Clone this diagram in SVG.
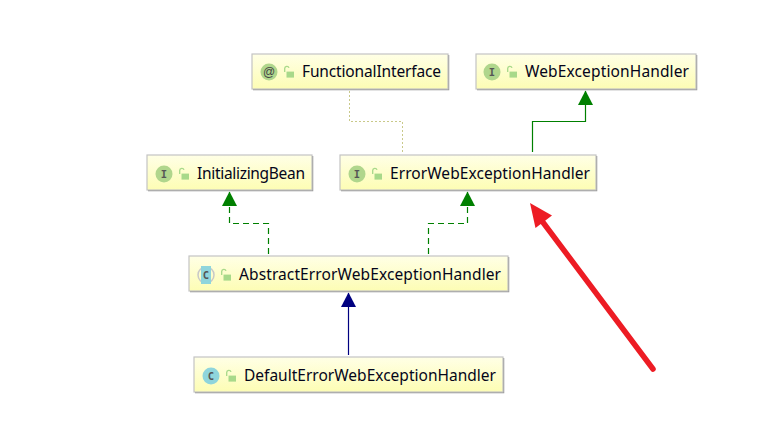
<svg xmlns="http://www.w3.org/2000/svg" width="777" height="440" viewBox="0 0 777 440">
<style>
.box{fill:url(#g);stroke:#c4c4c4;stroke-width:1.2}
.sh{fill:none;stroke:#8f8f8f;stroke-width:1.5}
.t{font-family:"Noto Sans","Open Sans",sans-serif;font-size:15.500px;fill:#05051a}
.ic{font-family:"DejaVu Sans Mono",monospace;font-size:10.500px;font-weight:700;fill:#555;text-anchor:middle}
.at{font-family:"Liberation Sans",sans-serif;font-size:12px;fill:#444;text-anchor:middle}
.ii{fill:#b0d68c}.ci{fill:#8fd5dc}
.lk{fill:#a8d98a}.sk{fill:none;stroke:#a8d98a;stroke-width:1.300}
.c{fill:none}
</style>
<defs>
<linearGradient id="g" x1="0" y1="0" x2="0" y2="1"><stop offset="0" stop-color="#ffffe6"/><stop offset="1" stop-color="#fdfdb4"/></linearGradient>
<g id="lock"><path class="sk" d="M0.700 3V-0.600a2.200 2.200 0 0 1 4.300 -0.500"/><rect class="lk" x="2.500" y="2.600" width="7.500" height="6"/></g>
<marker id="ag" markerUnits="userSpaceOnUse" markerWidth="16" markerHeight="16" refX="14" refY="7.500" orient="auto"><path d="M0 0L14.500 7.500L0 15z" fill="#008000"/></marker>
<marker id="ab" markerUnits="userSpaceOnUse" markerWidth="16" markerHeight="16" refX="14" refY="7.500" orient="auto"><path d="M0 0L14.500 7.500L0 15z" fill="#000080"/></marker>
</defs>
<rect width="777" height="440" fill="#fff"/>
<g id="connectors">
<path class="c" d="M349.500 91V121.500H402.500V152" stroke="#c9c98a" stroke-width="1" stroke-dasharray="2 2"/>
<path class="c" d="M532.500 152V121.500H585.500V91" stroke="#008000" stroke-width="1.200" marker-end="url(#ag)"/>
<path class="c" d="M268.500 254V223.500H229.500V192" stroke="#008000" stroke-width="1.200" stroke-dasharray="6 4" marker-end="url(#ag)"/>
<path class="c" d="M428.500 254V223.500H467.500V192" stroke="#008000" stroke-width="1.200" stroke-dasharray="6 4" marker-end="url(#ag)"/>
<path class="c" d="M348.500 355V293" stroke="#000080" stroke-width="1.200" marker-end="url(#ab)"/>
</g>
<g id="FunctionalInterface">
<path class="sh" d="M448.500 55V89.500H253"/><rect class="box" x="252" y="54" width="196" height="35"/>
<circle class="ii" cx="269" cy="72" r="8.500"/><text class="at" x="269" y="76">@</text>
<use href="#lock" x="284" y="69"/><text class="t" x="302" y="77" textLength="139">FunctionalInterface</text>
</g>
<g id="WebExceptionHandler">
<path class="sh" d="M696.500 55V89.500H477"/><rect class="box" x="476" y="54" width="220" height="35"/>
<circle class="ii" cx="492" cy="72" r="8.500"/><text class="ic" x="492" y="76">I</text>
<use href="#lock" x="507" y="69"/><text class="t" x="525" y="77" textLength="164">WebExceptionHandler</text>
</g>
<g id="InitializingBean">
<path class="sh" d="M312.500 156V190.500H148"/><rect class="box" x="147" y="155" width="165" height="35"/>
<circle class="ii" cx="164" cy="174" r="8.500"/><text class="ic" x="164" y="178">I</text>
<use href="#lock" x="179" y="171"/><text class="t" x="197" y="179" textLength="108">InitializingBean</text>
</g>
<g id="ErrorWebExceptionHandler">
<path class="sh" d="M596.500 156V190.500H341"/><rect class="box" x="340" y="155" width="256" height="35"/>
<circle class="ii" cx="357" cy="174" r="8.500"/><text class="ic" x="357" y="178">I</text>
<use href="#lock" x="372" y="171"/><text class="t" x="390" y="179" textLength="200">ErrorWebExceptionHandler</text>
</g>
<g id="AbstractErrorWebExceptionHandler">
<path class="sh" d="M508.500 257V291.500H190"/><rect class="box" x="189" y="256" width="319" height="35"/>
<circle fill="none" stroke="#c8c8c8" stroke-width="1.500" cx="206" cy="275" r="8"/><rect class="ci" x="201" y="266" width="10" height="18"/><text class="ic" x="206" y="279">C</text>
<use href="#lock" x="221" y="272"/><text class="t" x="239" y="280" textLength="262">AbstractErrorWebExceptionHandler</text>
</g>
<g id="DefaultErrorWebExceptionHandler">
<path class="sh" d="M503.500 358V392.500H195"/><rect class="box" x="194" y="357" width="309" height="35"/>
<circle class="ci" cx="211" cy="376" r="8.500"/><text class="ic" x="211" y="380">C</text>
<use href="#lock" x="226" y="373"/><text class="t" x="244" y="381" textLength="252">DefaultErrorWebExceptionHandler</text>
</g>
<path d="M653 369L542 221" fill="none" stroke="#ed1c24" stroke-width="5.500" stroke-linecap="round"/>
<path d="M530 203L552 215.500L535.500 228z" fill="#ed1c24"/>
</svg>
